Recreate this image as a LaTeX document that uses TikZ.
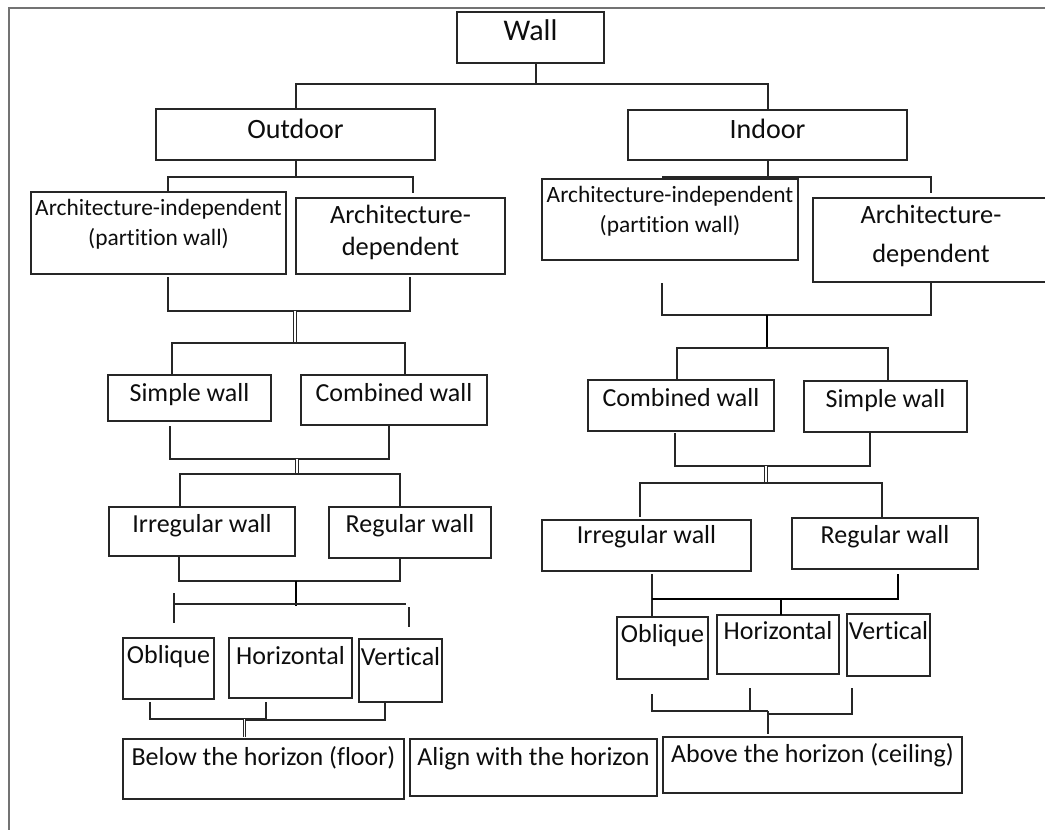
\documentclass[tikz,border=0pt]{standalone}
\usepackage{fontspec}
\setmainfont{Carlito}[Ligatures=NoCommon]
\usetikzlibrary{calc}
\tikzset{
 box/.style={draw=black!85, line width=1.1pt, inner sep=0pt, outer sep=0pt},
 txt/.style={anchor=base, inner sep=0pt, outer sep=0pt, text=black!95},
 conn/.style={draw=black!85, line width=1.1pt},
 stem/.style={draw=black, line width=1.8pt},
 dbl/.style={draw=black!85, line width=1pt, double=white, double distance=1.4pt},
}
\newcommand\mybox[8]{%
 \node[box, minimum width={#4-#2}, minimum height={#5-#3}] (#1) at ({(#2+#4)/2},{(#3+#5)/2}) {};
 \node[txt, font=\fontsize{#7}{#7}\selectfont] (#1-t) at ({(#2+#4)/2},#6) {#8};}
\begin{document}
\begin{tikzpicture}[x=1pt,y=-1pt]
\useasboundingbox (0,0) rectangle (1045,830);
\draw[draw=black!55, line width=1.5pt] (9,8) rectangle (1052,836);

% boxes
\mybox{wall}{457}{12}{604}{63}{40}{30}{Wall}
\mybox{out}{156}{109}{435}{160}{138}{28}{Outdoor}
\mybox{in}{628}{110}{907}{160}{138}{28}{Indoor}

\node[box, minimum width=255, minimum height=82] (oai) at (158.5,233) {};
\node[txt, font=\fontsize{23.4}{23.4}\selectfont] (oai-t1) at (158.5,215) {Architecture-independent};
\node[txt, font=\fontsize{23.4}{23.4}\selectfont] (oai-t2) at (158.5,245) {(partition wall)};
\node[box, minimum width=209, minimum height=76] (oad) at (400.5,236) {};
\node[txt, font=\fontsize{26.4}{26.4}\selectfont] (oad-t1) at (400.5,223) {Architecture-};
\node[txt, font=\fontsize{26.4}{26.4}\selectfont] (oad-t2) at (400.5,255) {dependent};
\node[box, minimum width=256, minimum height=81] (iai) at (670,219.5) {};
\node[txt, font=\fontsize{23.4}{23.4}\selectfont] (iai-t1) at (670,202) {Architecture-independent};
\node[txt, font=\fontsize{23.4}{23.4}\selectfont] (iai-t2) at (670,232) {(partition wall)};
\node[box, minimum width=236, minimum height=84] (iad) at (931,240) {};
\node[txt, font=\fontsize{26.4}{26.4}\selectfont] (iad-t1) at (931,223) {Architecture-};
\node[txt, font=\fontsize{26.4}{26.4}\selectfont] (iad-t2) at (931,262) {dependent};

\mybox{osw}{108}{375}{271}{421}{401}{26}{Simple wall}
\mybox{ocw}{301}{375}{487}{425}{401}{26}{Combined wall}
\mybox{icw}{588}{380}{774}{431}{406}{26}{Combined wall}
\mybox{isw}{804}{381}{967}{432}{407}{26}{Simple wall}

\mybox{oir}{109}{507}{295}{556}{532}{26}{Irregular wall}
\mybox{ore}{329}{507}{491}{558}{532}{26}{Regular wall}
\mybox{iir}{542}{520}{751}{571}{543}{26}{Irregular wall}
\mybox{ire}{792}{518}{978}{569}{543}{26}{Regular wall}

\mybox{oob}{123}{638}{214}{699}{663}{26}{Oblique}
\mybox{oho}{229}{638}{352}{698}{664}{26}{Horizontal}
\mybox{ove}{359}{639}{442}{702}{665}{26}{Vertical}
\mybox{iob}{617}{617}{708}{679}{642}{26}{Oblique}
\mybox{iho}{717}{615}{839}{674}{639}{26}{Horizontal}
\mybox{ive}{847}{614}{930}{676}{639}{26}{Vertical}

\mybox{below}{123}{739}{404}{799}{765}{26}{Below the horizon (floor)}
\mybox{align}{410}{739}{657}{796}{765}{26}{Align with the horizon}
\mybox{above}{663}{737}{962}{793}{762}{26}{Above the horizon (ceiling)}

% connectors: Wall
\draw[conn] (wall.south -| 536,0) -- (536,84);
\draw[conn] (out.north -| 296,0) -- (296,84) -- (768,84) -- (in.north -| 768,0);
% Outdoor
\draw[conn] (out.south -| 296,0) -- (296,177);
\draw[conn] (oai.north -| 168,0) -- (168,177) -- (413,177) -- ($(oad.north -| 413,0)+(0,-5)$);
% Indoor
\draw[conn] (in.south -| 768,0) -- (768,177);
\draw[conn] (iai.north -| 663,0) -- (663,177) -- (931,177) -- ($(iad.north -| 931,0)+(0,-5)$);
% Outdoor architecture -> simple/combined
\draw[conn] ($(oai.south -| 168,0)+(0,3)$) -- (168,311) -- (410,311) -- ($(oad.south -| 410,0)+(0,3)$);
\draw[dbl] (295,311) -- (295,343);
\draw[conn] (osw.north -| 172,0) -- (172,343) -- (405,343) -- (ocw.north -| 405,0);
% Indoor architecture -> combined/simple
\draw[conn] ($(iai.south -| 662,0)+(0,23)$) -- (662,315) -- (931,315) -- ($(iad.south -| 931,0)+(0,1)$);
\draw[stem] (767,315) -- (767,348);
\draw[conn] (icw.north -| 677,0) -- (677,348) -- (888,348) -- (isw.north -| 888,0);
% Outdoor simple/combined -> irregular/regular
\draw[conn] ($(osw.south -| 170,0)+(0,5)$) -- (170,459) -- (389,459) -- ($(ocw.south -| 389,0)+(0,1)$);
\draw[dbl] (297,459) -- (297,474);
\draw[conn] (oir.north -| 180,0) -- (180,474) -- (400,474) -- (ore.north -| 400,0);
% Indoor combined/simple -> irregular/regular
\draw[conn] ($(icw.south -| 675,0)+(0,2)$) -- (675,466) -- (870,466) -- ($(isw.south -| 870,0)+(0,1)$);
\draw[dbl] (766,466) -- (766,483);
\draw[conn] ($(iir.north -| 640,0)+(0,-3)$) -- (640,483) -- (882,483) -- ($(ire.north -| 882,0)+(0,-1)$);
% Outdoor irregular/regular -> oblique/horizontal/vertical
\draw[conn] (oir.south -| 179,0) -- (179,581) -- (400,581) -- (ore.south -| 400,0);
\draw[stem] (296,581) -- (296,606);
\draw[conn] (174,604) -- (406,604);
\draw[conn] (174,593) -- ($(oob.north -| 174,0)+(0,-15)$);
\draw[conn] (409,607) -- ($(ove.north -| 409,0)+(0,-12)$);
% Indoor irregular/regular -> oblique/horizontal/vertical
\draw[conn] ($(iir.south -| 652,0)+(0,3)$) -- (iob.north -| 652,0);
\draw[stem, line width=1.5pt] ($(ire.south -| 898,0)+(0,5)$) -- (898,599) -- (652,599);
\draw[stem, line width=1.5pt] (781,599) -- (iho.north -| 781,0);
% Outdoor -> floor
\draw[conn] ($(oob.south -| 150,0)+(0,3)$) -- (150,719) -- (266,719) -- ($(oho.south -| 266,0)+(0,4)$);
\draw[conn] ($(ove.south -| 385,0)+(0,1)$) -- (385,720) -- (245,720);
\draw[dbl] (244.5,719) -- ($(below.north -| 244.5,0)+(0,-2)$);
% Indoor -> ceiling
\draw[conn] ($(iob.south -| 652,0)+(0,15)$) -- (652,711) -- (768,711);
\draw[conn] ($(iho.south -| 750,0)+(0,14)$) -- (750,711);
\draw[conn] ($(ive.south -| 852,0)+(0,12)$) -- (852,714) -- (768,714);
\draw[conn] (768,711) -- ($(above.north -| 768,0)+(0,-3)$);
\end{tikzpicture}
\end{document}
